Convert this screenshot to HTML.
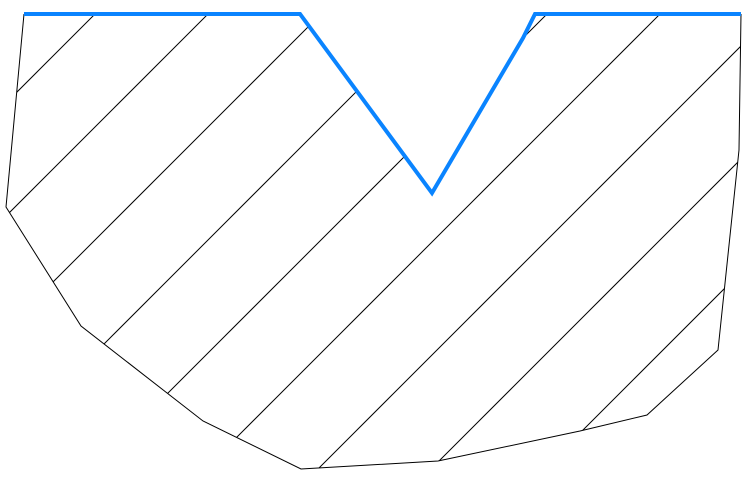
<!DOCTYPE html>
<html><head><meta charset="utf-8"><style>
html,body{margin:0;padding:0;background:#fff;width:749px;height:479px;overflow:hidden;}
svg{display:block;overflow:hidden;}
</style></head><body>
<svg id="fig" width="749" height="479" viewBox="0 0 749 479">
  <defs><clipPath id="clip"><polygon id="clipPoly"></polygon></clipPath></defs>
  <g id="hatch" clip-path="url(#clip)"></g>
  <polyline id="outline" fill="none" stroke="#000" stroke-width="1"></polyline>
  <polyline id="topEdge" fill="none" stroke="#0a84ff" stroke-width="4" stroke-linejoin="miter"></polyline>
</svg>
<script>
const topPts = [[24,14],[300,14],[432,193],[523,38],[535,14],[741,14]];
const sidePts = [[741,14],[739,150],[718,350],[647,415],[580,431],[438,461],[301,469],[203,421],[81,326],[6,207],[24,14]];
const hatchOffsets = [109,222,335,448,561,674,787,900,1013];
const toStr = p => p.map(q => q.join(',')).join(' ');
document.getElementById('topEdge').setAttribute('points', toStr(topPts));
document.getElementById('outline').setAttribute('points', toStr(sidePts));
document.getElementById('clipPoly').setAttribute('points', toStr(topPts.concat(sidePts.slice(1))));
const g = document.getElementById('hatch');
hatchOffsets.forEach((c, i) => {
  const l = document.createElementNS('http://www.w3.org/2000/svg', 'line');
  l.setAttribute('x1', c - 470); l.setAttribute('y1', 470);
  l.setAttribute('x2', c); l.setAttribute('y2', 0);
  l.setAttribute('stroke', '#000'); l.setAttribute('stroke-width', '1');
  
  
  g.appendChild(l);
});
</script>
</body></html>
